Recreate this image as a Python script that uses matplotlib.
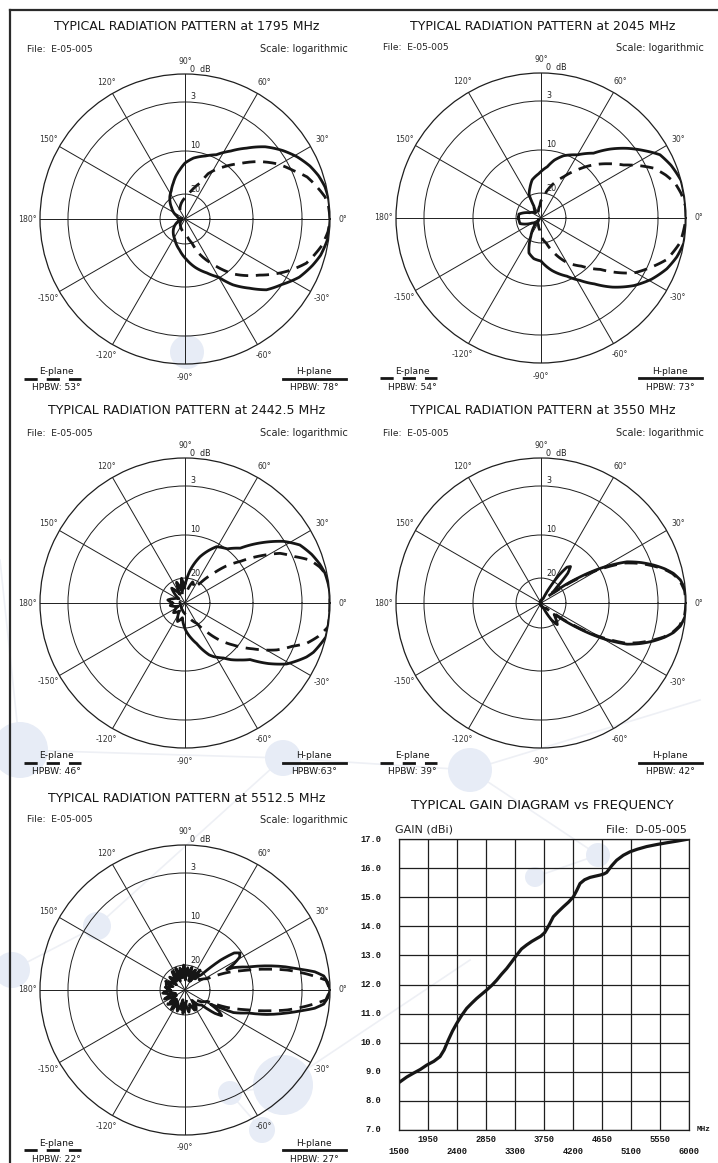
import numpy as np
import matplotlib
matplotlib.use("Agg")
import matplotlib.pyplot as plt
from matplotlib.lines import Line2D
from matplotlib.patches import Circle

plt.rcParams['lines.scale_dashes'] = False
plt.rcParams['font.family'] = 'DejaVu Sans'

W, H = 718, 1163          # figure size in pixels (dpi 100)
R = 145                   # polar chart radius in pixels
INK = '#161616'
GRID = '#1e1e1e'

# logarithmic polar scale: ring level (dB) -> relative radius
RING_DB = [-30, -20, -10, -3, 0]
RING_R = [0.0, 0.172, 0.469, 0.807, 1.0]

# ---- radiation patterns: angle (deg) and relative level (dB) ----
# 1795 MHz
ang_1795_h = [-180, -160, -140, -116, -100, -88, -78, -68, -60, -54, -47, -41, -34, -27, -20,
              -15, -8, 0, 8, 13, 18, 23, 29, 35, 42, 49, 56, 64, 72, 82, 90, 96, 102, 108,
              116, 124, 140, 160, 180]
lev_1795_h = [-28, -27, -24, -20.8, -18.5, -16.4, -14.3, -12.3, -10.2, -8.1, -6.2, -4.3, -3.0,
              -1.8, -1.0, -0.5, -0.1, 0, 0, -0.15, -0.5, -1.0, -1.8, -2.75, -4.3, -6.3, -8.0,
              -9.5, -10.4, -11.5, -12.8, -14.3, -15.6, -17, -18.5, -19.5, -23, -26.5, -28]
ang_1795_e = [-180, -150, -120, -100, -83, -74, -67, -58, -48, -37, -27, -20, -11, -5, 0, 5, 9,
              19, 24, 31, 38, 45, 52, 57, 63, 67, 77, 86, 100, 120, 150, 180]
lev_1795_e = [-29, -28, -26.5, -25, -23, -20, -16.8, -13.3, -9.1, -6.4, -3.3, -1.7, -0.6, -0.15,
              0, -0.1, -0.35, -1.7, -2.8, -4.4, -6.4, -8.5, -10.2, -11.9, -14, -16.7, -19,
              -20.9, -23, -26, -28, -29]

# 2045 MHz
ang_2045_h = [-180, -165, -150, -135, -125, -119, -109, -100, -90, -78, -66, -58, -51, -44, -36,
              -29, -22, -16, -10, 0, 8, 15, 22, 28, 33, 39, 45, 51, 60, 70, 77, 83, 93, 103,
              110, 117, 121, 135, 155, 170, 180]
lev_2045_h = [-21, -21.3, -26, -27.5, -24, -21.6, -17.2, -16.2, -15.8, -13.3, -11, -9.2, -7.6,
              -5.5, -3.3, -2.0, -1.0, -0.4, 0, 0, 0, 0, -0.5, -1.1, -2.3, -3.9, -5.8, -7.8,
              -9.3, -10.4, -12, -13.8, -15.5, -16.7, -18.3, -19.7, -24.5, -27, -25, -21, -21]
ang_2045_e = [-180, -150, -130, -110, -95, -86, -78, -69.6, -59.7, -50, -40.9, -35.5, -30.6, -24,
              -18.3, -10, 0, 4.6, 10, 14.6, 19, 23.9, 28, 32.7, 39, 45.2, 53, 61, 67, 73, 80,
              86, 95, 110, 130, 150, 180]
lev_2045_e = [-29, -29, -28, -27, -25, -21.6, -19.8, -17.2, -13.8, -11.2, -8.5, -6.3, -4.3, -2.6,
              -1.35, -0.4, 0, 0, -0.3, -0.7, -1.4, -2.35, -3.8, -5.7, -7.4, -9.0, -11.8, -14.8,
              -16.5, -18.1, -20, -21.6, -25, -27, -28, -29, -29]

# 2442.5 MHz
ang_2442_h = [-180, -170, -155, -140, -125, -112, -100, -93, -87, -80, -74, -65, -62, -55, -51,
              -46, -41, -36, -31, -24, -21, -13.5, -6, 0, 6, 12, 16, 21, 26.8, 32, 38, 44.8, 52,
              60.7, 66, 72, 77, 81, 86, 92, 98, 104, 112, 120, 132, 145, 160, 170, 180]
lev_2442_h = [-25, -24, -27, -24, -26, -22, -24, -21, -19.1, -17.5, -16, -12.5, -11.7, -10.2,
              -9.3, -8.4, -7.4, -5.0, -2.85, -1.3, -0.8, 0, 0, 0, 0, -0.2, -0.5, -1.0, -1.75,
              -3.1, -5.7, -8.6, -9.9, -10.8, -12.5, -14.5, -16.5, -18.1, -20.5, -24, -20, -25,
              -21, -26, -22, -27, -25, -23, -25]
ang_2442_e = [-180, -140, -110, -80, -66, -60, -53, -47, -41, -34, -27.1, -22, -18.3, -14, -9.5,
              0, 10.5, 15, 19, 23, 27.6, 32, 36.9, 42, 46.3, 52.7, 58, 70, 80, 90, 110, 140, 180]
lev_2442_e = [-28, -28, -27, -25, -22, -20.6, -17.4, -14, -10.9, -8, -5, -3.2, -1.8, -0.8, 0,
              0, 0, -0.6, -1.4, -2.8, -4.4, -7.0, -9.8, -13, -16.3, -20, -23, -21, -25, -22,
              -27, -28, -28]

# 3550 MHz
ang_3550_h = [-180, -120, -80, -64, -58, -53, -49, -45, -41, -38.5, -34.2, -30.2, -25.6, -22,
              -18.6, -15.5, -12.6, -9.4, -5, 0, 5, 9.4, 12.6, 15.5, 18.6, 22, 25.6, 30.2, 34.2,
              38.5, 42, 45, 48, 51, 54, 57, 60, 64, 80, 120, 180]
lev_3550_h = [-30, -30, -29, -28, -22, -19.5, -20.5, -22, -23, -21.6, -15.6, -9.8, -6.1, -4.3,
              -2.8, -1.8, -1.0, -0.4, 0, 0, 0, -0.4, -1.0, -1.8, -2.8, -4.3, -6.1, -9.8, -15.6,
              -21.6, -24, -21, -16.5, -14.9, -15.5, -18, -22, -28, -29, -30, -30]
ang_3550_e = [-180, -90, -45, -38.5, -34.2, -30.2, -25.6, -22, -18.6, -15.5, -12.6, -9.4, -5, 0,
              5, 9.4, 12.6, 15.5, 18.6, 22, 25.6, 30.2, 34.2, 38.5, 45, 90, 180]
lev_3550_e = [-30, -29, -27, -23, -16.5, -10.5, -6.5, -4.6, -3.0, -1.9, -1.1, -0.5, -0.1, 0,
              -0.1, -0.5, -1.1, -1.9, -3.0, -4.6, -6.5, -10.5, -16.5, -23, -27, -29, -30]

# 5512.5 MHz
ang_5512_h = [-180, -172, -164, -156, -148, -140, -132, -125, -118, -110, -102, -95, -88, -80,
              -72, -64, -56, -48, -42, -38, -35, -32, -29, -27, -25, -20, -16.6, -13, -10.3, -8,
              -5.8, -3, 0, 3, 5.8, 8, 10.2, 13, 16.4, 20, 24.8, 26, 28, 31, 34, 37, 40, 43, 48,
              53, 58, 63, 68, 73, 78, 83, 88, 93, 98, 103, 108, 113, 118, 125, 132, 140, 148,
              156, 164, 172, 180]
lev_5512_h = [-24, -21, -25, -21, -26, -22, -25, -20.5, -24, -21, -26, -20.5, -25, -21, -24,
              -21, -25, -22, -21, -17, -15.4, -16.5, -19, -17, -13.4, -10.2, -7.5, -5.0, -3.0,
              -1.5, -0.6, -0.2, 0, -0.2, -0.6, -1.5, -3.0, -5.0, -7.5, -10.2, -13.4, -15, -13,
              -11, -10.4, -11.5, -15, -21, -24, -20, -25, -21, -26, -20.5, -24, -21, -26, -20,
              -24, -21, -25, -20.5, -26, -21, -25, -22, -26, -21.5, -25, -22, -24]
ang_5512_e = [-180, -160, -140, -120, -100, -80, -60, -45, -36, -27, -22.6, -18, -14.2, -11,
              -8.6, -4, 0, 4, 8.6, 11, 14.2, 18, 22.6, 27, 36, 45, 60, 80, 100, 120, 140, 160, 180]
lev_5512_e = [-23, -26, -21, -25, -22, -26, -21, -25, -22, -20, -15.3, -11, -7.6, -4.8, -3.0,
              -0.4, 0, -0.4, -3.0, -4.8, -7.6, -11, -15.3, -20, -23, -21, -26, -22, -25, -21,
              -26, -22, -23]

# ---- gain vs frequency ----
gain_freq = [1500, 1620, 1722, 1830, 1930, 2040, 2136, 2200, 2265, 2330, 2395, 2470, 2550, 2630,
             2705, 2780, 2860, 2940, 3016, 3090, 3171, 3250, 3326, 3400, 3481, 3560, 3637, 3700,
             3760, 3830, 3895, 3970, 4050, 4130, 4205, 4260, 4309, 4380, 4464, 4540, 4619, 4680,
             4722, 4800, 4877, 4980, 5084, 5200, 5343, 5500, 5653, 5820, 6000]
gain_dbi = [8.63, 8.82, 8.95, 9.08, 9.23, 9.36, 9.52, 9.75, 10.09, 10.40, 10.66, 10.93, 11.18,
            11.36, 11.52, 11.66, 11.81, 11.97, 12.15, 12.35, 12.55, 12.78, 13.01, 13.22, 13.36,
            13.48, 13.58, 13.66, 13.78, 14.05, 14.33, 14.50, 14.67, 14.83, 15.01, 15.24, 15.47,
            15.60, 15.68, 15.72, 15.76, 15.80, 15.85, 16.08, 16.27, 16.44, 16.56, 16.65, 16.74,
            16.81, 16.87, 16.93, 17.0]
freq_ticks = [1500, 1950, 2400, 2850, 3300, 3750, 4200, 4650, 5100, 5550, 6000]
gain_ticks = [7, 8, 9, 10, 11, 12, 13, 14, 15, 16, 17]

# panel centers (pixels) and legend texts
panels = [
    (185, 219, '1795', ang_1795_h, lev_1795_h, ang_1795_e, lev_1795_e, 'HPBW: 53°', 'HPBW: 78°'),
    (541, 218, '2045', ang_2045_h, lev_2045_h, ang_2045_e, lev_2045_e, 'HPBW: 54°', 'HPBW: 73°'),
    (185, 603, '2442.5', ang_2442_h, lev_2442_h, ang_2442_e, lev_2442_e, 'HPBW: 46°', 'HPBW:63°'),
    (541, 603, '3550', ang_3550_h, lev_3550_h, ang_3550_e, lev_3550_e, 'HPBW: 39°', 'HPBW: 42°'),
    (185, 990, '5512.5', ang_5512_h, lev_5512_h, ang_5512_e, lev_5512_e, 'HPBW: 22°', 'HPBW: 27°'),
]


def to_radius(v):
    return np.interp(v, RING_DB, RING_R)


def from_radius(r):
    return np.interp(r, RING_R, RING_DB)


def px(x, y):
    return x / W, 1 - y / H


fig = plt.figure(figsize=(W / 100, H / 100), dpi=100)
fig.patch.set_facecolor('white')

# faint network watermark in the background
blobs = [(187, 352, 17), (20, 750, 28), (283, 758, 18), (470, 770, 22), (598, 855, 12),
         (535, 877, 10), (283, 1085, 30), (230, 1093, 12), (262, 1130, 13), (12, 970, 18),
         (97, 926, 14)]
links = [((97, 926), (12, 970)), ((283, 1085), (230, 1093)), ((230, 1093), (262, 1130)),
         ((470, 770), (598, 855)), ((470, 770), (283, 758)), ((20, 750), (283, 758)),
         ((598, 855), (535, 877)), ((283, 758), (97, 926)), ((283, 1085), (470, 960)),
         ((470, 770), (700, 700)), ((20, 750), (0, 560))]
for (x0, y0), (x1, y1) in links:
    fig.add_artist(Line2D([x0 / W, x1 / W], [1 - y0 / H, 1 - y1 / H], color='#eef0f5',
                          lw=1.2, zorder=-2))
for bx, by, br in blobs:
    fig.add_artist(Circle((bx / 100, (H - by) / 100), br / 100, transform=fig.dpi_scale_trans,
                          facecolor='#e7ecf6', edgecolor='none', zorder=-1))

# frame
fig.add_artist(Line2D([10 / W, 1], [1 - 10 / H] * 2, color='#2a2a2a', lw=1.6))
fig.add_artist(Line2D([10 / W] * 2, [0, 1 - 10 / H], color='#2a2a2a', lw=1.6))

for cx, cy, freq, ang_h, lev_h, ang_e, lev_e, bw_e, bw_h in panels:
    ax = fig.add_axes([(cx - R) / W, 1 - (cy + R) / H, 2 * R / W, 2 * R / H],
                      projection='polar')
    ax.set_facecolor('none')
    ax.set_rscale('function', functions=(to_radius, from_radius))
    ax.set_rlim(RING_DB[0], 0)
    ax.set_rgrids([-20, -10, -3])
    ax.set_thetagrids(range(0, 360, 30))
    ax.set_xticklabels([])
    ax.set_yticklabels([])
    ax.grid(color=GRID, lw=0.7)
    ax.spines['polar'].set_linewidth(0.9)
    ax.spines['polar'].set_color(GRID)

    ln_h, = ax.plot(np.radians(ang_h), lev_h, color=INK, lw=2.0, solid_joinstyle='round')
    ln_e, = ax.plot(np.radians(ang_e), lev_e, color=INK, lw=2.0, dashes=(9.5, 5.5))
    for ln in (ln_h, ln_e):
        ln.get_path()._interpolation_steps = 8

    # angle labels
    for deg in range(0, 360, 30):
        lab = deg if deg <= 180 else deg - 360
        t = np.radians(deg)
        fig.text(*px(cx + 158 * np.cos(t), cy - 158 * np.sin(t)), f'{lab}°',
                 ha='center', va='center', size=5.6, color='#333333')
    # ring labels
    for lvl, txt in [(0, '0  dB'), (-3, '3'), (-10, '10'), (-20, '20')]:
        fig.text(*px(cx + 5, cy - R * to_radius(lvl) - 5), txt, ha='left', va='center',
                 size=5.8, color='#222222')

    fig.text(*px(cx + 2, cy - 192), f'TYPICAL RADIATION PATTERN at {freq} MHz',
             ha='center', va='center', size=9.0, color=INK)
    fig.text(*px(cx - 158, cy - 170), 'File:  E-05-005', ha='left', va='center',
             size=6.6, color='#222222')
    fig.text(*px(cx + 163, cy - 170), 'Scale: logarithmic', ha='right', va='center',
             size=7.0, color='#222222')

    # legends
    fig.text(*px(cx - 129, cy + 153), 'E-plane', ha='center', va='center', size=6.6, color=INK)
    fig.add_artist(Line2D([(cx - 161) / W, (cx - 104) / W], [1 - (cy + 160) / H] * 2,
                          color=INK, lw=2.0, dashes=(9.5, 6.5)))
    fig.text(*px(cx - 129, cy + 169), bw_e, ha='center', va='center', size=6.6, color=INK)
    fig.text(*px(cx + 129, cy + 153), 'H-plane', ha='center', va='center', size=6.6, color=INK)
    fig.add_artist(Line2D([(cx + 98) / W, (cx + 161) / W], [1 - (cy + 160) / H] * 2,
                          color=INK, lw=2.0))
    fig.text(*px(cx + 129, cy + 169), bw_h, ha='center', va='center', size=6.6, color=INK)

# gain diagram
gx0, gx1, gy0, gy1 = 399, 689, 839, 1130
ax = fig.add_axes([gx0 / W, 1 - gy1 / H, (gx1 - gx0) / W, (gy1 - gy0) / H])
ax.set_facecolor('none')
ax.plot(gain_freq, gain_dbi, color=INK, lw=2.3, solid_capstyle='round')
ax.set_xlim(freq_ticks[0], freq_ticks[-1])
ax.set_ylim(gain_ticks[0], gain_ticks[-1])
ax.set_xticks(freq_ticks)
ax.set_yticks(gain_ticks)
ax.grid(color=GRID, lw=0.9)
ax.tick_params(length=0, labelbottom=False, labelleft=False)
for s in ax.spines.values():
    s.set_linewidth(0.9)
    s.set_color(GRID)

mono = dict(family='Liberation Mono', weight='bold', color=INK)
for g in gain_ticks:
    ax.text(-(gx0 - 381) / (gx1 - gx0), g, f'{g:.1f}', transform=ax.get_yaxis_transform(),
            ha='right', va='center', size=6.3, **mono)
for i, f in enumerate(freq_ticks):
    yoff = 1152 if i % 2 == 0 else 1140
    ax.text(f, -(yoff - gy1) / (gy1 - gy0), str(f), transform=ax.get_xaxis_transform(),
            ha='center', va='center', size=6.3, **mono)
ax.text(1.05, 0.003, 'MHz', transform=ax.transAxes, ha='center', va='center', size=5.6, **mono)

fig.text(*px(542, 805), 'TYPICAL GAIN DIAGRAM vs FREQUENCY', ha='center', va='center',
         size=9.6, color=INK)
fig.text(*px(395, 830), 'GAIN (dBi)', ha='left', va='center', size=8.0, color='#222222')
fig.text(*px(687, 830), 'File:  D-05-005', ha='right', va='center', size=8.0, color='#222222')

fig.savefig('out.png', dpi=100, facecolor='white')
